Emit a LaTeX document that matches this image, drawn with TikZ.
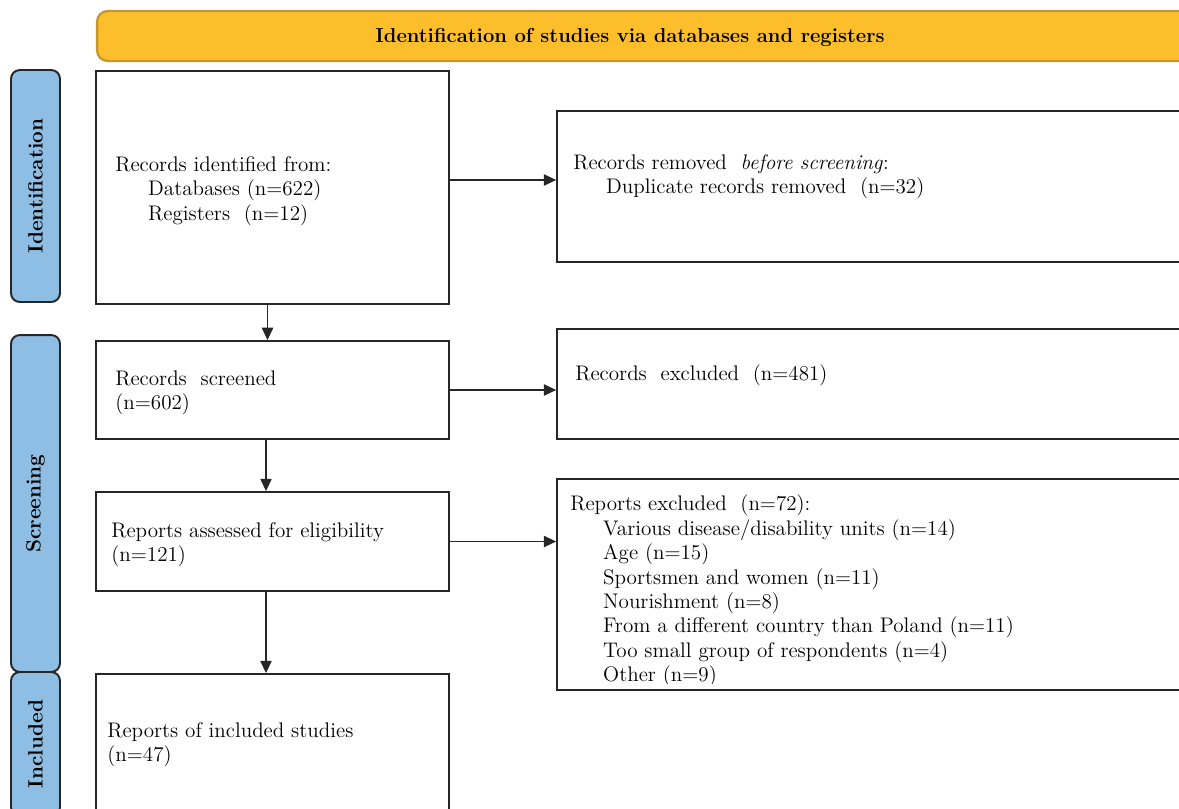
\documentclass[tikz,border=0pt]{standalone}
\usepackage{tikz}
\usetikzlibrary{arrows.meta}

\definecolor{bannerfill}{HTML}{FDBE2B}
\definecolor{bannerline}{HTML}{C4962E}
\definecolor{phasefill}{HTML}{8FBEE4}
\definecolor{boxline}{HTML}{262626}

\tikzset{
  box/.style={draw=boxline, line width=1.1pt, rectangle, inner sep=0pt, minimum width=7.06cm},
  sidebox/.style={box, minimum width=13.2cm},
  phase/.style={draw=boxline, fill=phasefill, line width=1.1pt, rounded corners=5pt,
                rotate=90, minimum height=0.98cm, inner sep=0pt,
                font=\fontsize{11.8}{13}\selectfont\bfseries},
  txt/.style={align=left, inner sep=0pt, font=\fontsize{12}{13.9}\selectfont},
  flow/.style={->, draw=boxline, line width=0.6pt},
}
\newcommand{\ind}{\hspace*{18.7pt}}

\begin{document}
\begin{tikzpicture}[x=0.02cm, y=-0.02cm, >={Triangle[length=7pt,width=6.5pt]}]

  \useasboundingbox (0,0) rectangle (1179,808);
  \clip (0,0) rectangle (1179,808);

  % banner
  \node[draw=bannerline, fill=bannerfill, line width=1.3pt, rounded corners=6pt,
        minimum width=22.36cm, minimum height=1cm] (banner) at (656,36) {};
  \node[font=\fontsize{11.5}{13}\selectfont\bfseries] (bannertxt) at (630,37)
        {Identification of studies via databases and registers};

  % phases
  \node[phase, minimum width=4.64cm] (phaseid) at (35.5,186) {Identification};
  \node[phase, minimum width=6.74cm] (phasescr) at (35.5,503.5) {Screening};
  \node[phase, minimum width=2.88cm] (phaseinc) at (35.5,744) {Included};

  % left column
  \node[box, minimum height=4.66cm] (ident) at (272.5,187.5) {};
  \node[box, minimum height=1.96cm] (screened) at (272.5,390) {};
  \node[box, minimum height=1.98cm] (assessed) at (272.5,541.5) {};
  \node[box, minimum height=3.12cm] (included) at (272.5,752) {};

  % right column
  \node[sidebox, minimum height=3.02cm] (removed) at (887,186.5) {};
  \node[sidebox, minimum height=2.2cm] (excluded) at (887,384) {};
  \node[sidebox, minimum height=4.22cm] (repexcl) at (887,584.5) {};

  % texts
  \node[txt, anchor=west] (identtxt) at (115,191)
       {Records identified from:\\\ind Databases (n=622)\\\ind Registers~~(n=12)};
  \node[txt, anchor=west] (removedtxt) at (573,177)
       {Records removed~~\emph{before screening}:\\\ind Duplicate records removed~~(n=32)};
  \node[txt, anchor=west] (screenedtxt) at (115,393) {Records~ screened\\(n=602)};
  \node[txt, anchor=west] (excludedtxt) at (575,375) {Records~ excluded~ (n=481)};
  \node[txt, anchor=west] (assessedtxt) at (111,545) {Reports assessed for eligibility\\(n=121)};
  \node[txt, anchor=west] (includedtxt) at (107,745) {Reports of included studies\\(n=47)};
  \begin{scope}
    \clip (557,479) rectangle (1179,683);
    \node[txt, anchor=west] (repexcltxt) at (570,591)
         {Reports excluded~~(n=72):\\
          \ind Various disease/disability units (n=14)\\
          \ind Age (n=15)\\
          \ind Sportsmen and women (n=11)\\
          \ind Nourishment (n=8)\\
          \ind From a different country than Poland (n=11)\\
          \ind Too small group of respondents (n=4)\\
          \ind Other (n=9)};
  \end{scope}

  % arrows
  \draw[flow] ([xshift=-1mm]ident.south) -- ([xshift=-1mm]screened.north);
  \draw[flow] ([xshift=-1.3mm]screened.south) -- ([xshift=-1.3mm]assessed.north);
  \draw[flow] ([xshift=-1.3mm]assessed.south) -- ([xshift=-1.3mm]included.north);
  \draw[flow] ([yshift=1.5mm]ident.east) -- ([yshift=1.5mm]ident.east -| removed.west);
  \draw[flow] (screened.east) -- (screened.east -| excluded.west);
  \draw[flow] (assessed.east) -- (assessed.east -| repexcl.west);

\end{tikzpicture}
\end{document}
